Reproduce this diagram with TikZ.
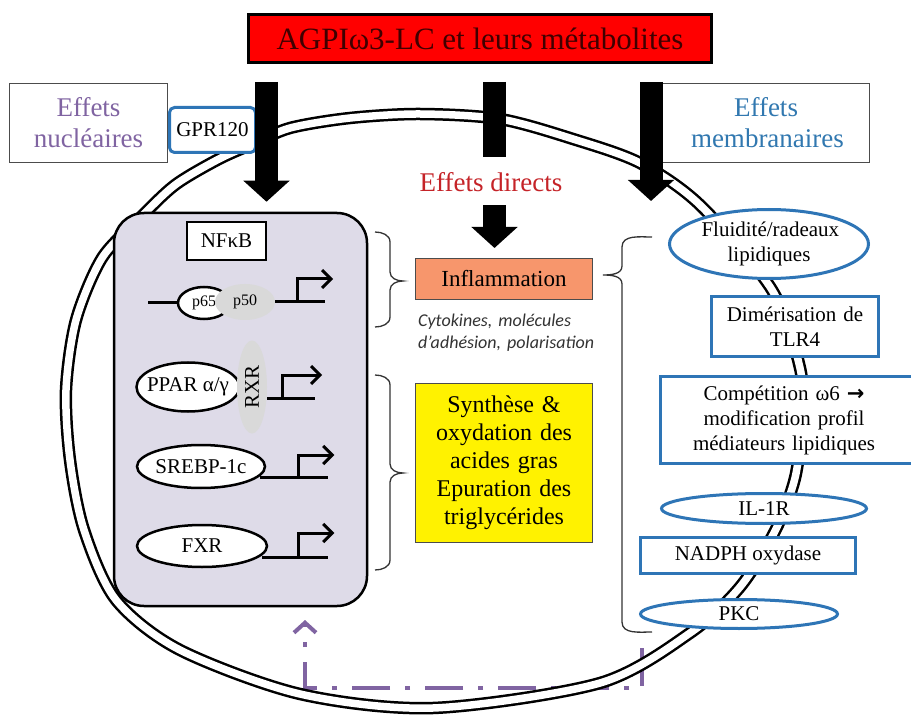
\documentclass[tikz,border=0pt]{standalone}
\usepackage{fontspec}
\setmainfont{Liberation Serif}
\newfontfamily\calfont{Carlito}
\newfontfamily\serf{Liberation Serif}
\newfontfamily\arrowfont{DejaVu Sans}
\usepackage{tikz}
\usetikzlibrary{arrows.meta,positioning,shapes.geometric,calc}
\definecolor{nucfill}{RGB}{222,219,232}
\definecolor{memblue}{RGB}{46,117,182}
\definecolor{membtext}{RGB}{49,120,176}
\definecolor{nucviolet}{RGB}{128,100,162}
\definecolor{dirred}{RGB}{197,35,40}
\definecolor{inflorange}{RGB}{247,150,108}
\definecolor{factgray}{RGB}{217,217,217}
\definecolor{titletext}{RGB}{64,0,0}
\tikzset{
  cell/title/.style={draw, line width=3pt, fill=red, text=titletext, minimum width=463pt, minimum height=48pt, font=\serf\fontsize{31}{36}\selectfont},
  cell/label/.style={draw=black!70, line width=1pt, fill=white, minimum width=158pt, minimum height=79pt, text width=150pt, align=center, font=\serf\fontsize{27}{31}\selectfont},
  cell/receptor/.style={draw=memblue, line width=3pt, fill=white, rounded corners=5pt, font=\serf\fontsize{21}{25}\selectfont},
  cell/nucleus/.style={draw, line width=2.5pt, fill=nucfill, rounded corners=30pt},
  cell/nfkb/.style={draw, line width=2.5pt, fill=white, minimum width=79pt, minimum height=38pt, font=\serf\fontsize{21}{25}\selectfont},
  cell/factor/.style={draw, ellipse, line width=2.5pt, fill=white, inner sep=0pt},
  cell/partner/.style={ellipse, fill=factgray, inner sep=0pt},
  cell/ftext/.style={inner sep=0pt, font=\serf\fontsize{21}{25}\selectfont},
  cell/small/.style={inner sep=0pt, font=\serf\fontsize{16}{19}\selectfont},
  cell/dna/.style={line width=3pt},
  cell/tss/.style={line width=3pt, -{Straight Barb[length=9pt 0, width=18pt 0]}},
  cell/effect/.style={draw=black!70, line width=1pt, minimum width=177pt, font=\serf\fontsize{23}{28}\selectfont},
  cell/note/.style={inner sep=0pt, text width=190pt, align=left, text=black!80, font=\calfont\itshape\fontsize{18}{22}\selectfont},
  cell/membbox/.style={draw=memblue, line width=3pt, fill=white, font=\serf\fontsize{21}{25}\selectfont},
  cell/membell/.style={cell/membbox, ellipse, inner sep=0pt},
  cell/brace/.style={draw=black!80, line width=1.3pt},
  cell/bigarrow/.style={line width=23pt, -{Triangle[length=21pt 0, width=45pt 0]}},
  cell/bigbar/.style={line width=23pt},
  cell/feedback/.style={draw=nucviolet, line width=4pt, dash pattern=on 38pt off 15pt on 5pt off 15pt, -{Straight Barb[length=10pt 0, width=22pt 0]}},
  cell/membrane/.style={line width=2.5pt, double, double distance=7.5pt}
}
\newcommand{\closebrace}[4]{%
  \draw[cell/brace] (#1,#2) to[out=0,in=90] (#1+15,#2+10) -- (#1+15,#3-9)
    to[out=-90,in=180] (#1+28,#3) to[out=180,in=90] (#1+15,#3+9)
    -- (#1+15,#4-10) to[out=-90,in=0] (#1,#4);}
\newcommand{\openbrace}[4]{%
  \draw[cell/brace] (#1,#2) to[out=180,in=90] (#1-30,#2+10) -- (#1-30,#3-9)
    to[out=-90,in=0] (#1-49,#3) to[out=0,in=90] (#1-30,#3+9)
    -- (#1-30,#4-10) to[out=-90,in=180] (#1,#4);}

\begin{document}
\begin{tikzpicture}[x=1pt,y=-1pt]
  \path[use as bounding box, fill=white] (0,0) rectangle (911,722);

  \coordinate (fbs) at (642,648);
  \coordinate (fbe) at (305,620);
  \draw[cell/feedback] (fbs) -- ++(0,40) -| (fbe);

  \draw[cell/membrane] plot[smooth cycle] coordinates {
    (420,114) (500,119) (573,139) (640,163) (700,205) (772,290) (800,368)
    (802,420) (795,478) (775,531) (740,587) (690,633) (600,683) (433,708)
    (300,694) (180,650) (116,600) (84,530) (70,460) (66,390) (76,320)
    (102,258) (140,218) (175,185) (217,160) (250,145) (290,128) (350,118)};

  \node[cell/title] (title) at (480,38.5) {AGPIω3-LC et leurs métabolites};
  \node[cell/label, text=nucviolet] (nucl) at (88.5,123) {Effets\\nucléaires};
  \node[cell/label, text=membtext, minimum width=207pt] (membr) at (766,123) {Effets\\membranaires};
  \node[cell/receptor, minimum width=86pt, minimum height=45pt] (gpr) at (212.5,130) {GPR120};

  \node[cell/nucleus, minimum width=253pt, minimum height=393pt] (nuc) at (240.5,409.5) {};
  \node[cell/nfkb] (nfkb) at (226.5,241) {NFκB};

  \node[cell/factor, minimum width=52pt, minimum height=32pt, label={[cell/small]center:p65}] (p65) at (204,303) {};
  \node[cell/partner, minimum width=60pt, minimum height=36pt, label={[cell/small]center:p50}] (p50) at (245,302) {};
  \coordinate (dnaA) at (148,303);
  \draw[cell/dna] (dnaA) -- (p65.west);
  \draw[cell/dna] (p50.east) -- ++(50,0);
  \draw[cell/tss] ($(p50.east)+(22,0)$) -- ++(0,-23) -- ++(36,0);

  \node[cell/factor, minimum width=103pt, minimum height=49pt, label={[cell/ftext]center:PPAR α/γ}] (ppar) at (188,387) {};
  \node[cell/partner, minimum width=30pt, minimum height=93pt, label={[cell/ftext, rotate=90]center:RXR}] (rxr) at (252,387) {};
  \draw[cell/dna] ($(rxr.east)+(0,11)$) -- ++(48,0);
  \draw[cell/tss] ($(rxr.east)+(15,11)$) -- ++(0,-23) -- ++(40,0);

  \node[cell/factor, minimum width=128pt, minimum height=43pt, label={[cell/ftext]center:SREBP-1c}] (srebp) at (201,466.5) {};
  \draw[cell/dna] ($(srebp.east)+(-6,10.5)$) -- ++(68,0);
  \draw[cell/tss] ($(srebp.east)+(32,10.5)$) -- ++(0,-22) -- ++(36,0);

  \node[cell/factor, minimum width=130pt, minimum height=42pt, label={[cell/ftext]center:FXR}] (fxr) at (202,546) {};
  \draw[cell/dna] ($(fxr.east)+(-6,11)$) -- ++(66,0);
  \draw[cell/tss] ($(fxr.east)+(30,11)$) -- ++(0,-24) -- ++(36,0);

  \closebrace{375}{232}{281}{327}
  \closebrace{375}{375}{473}{570}
  \openbrace{652}{237}{275}{632}

  \node[font=\serf\fontsize{27}{32}\selectfont, text=dirred] (direct) at (491,182) {Effets directs};
  \node[cell/effect, fill=inflorange, minimum height=41pt] (infl) at (504,279) {Inflammation};
  \node[cell/note, below=14pt of infl.south west, anchor=north west, xshift=3pt] (cyto) {Cytokines, molécules\\d’adhésion, polarisation};
  \node[cell/effect, fill=yellow, minimum height=159pt, text width=170pt, align=center, font=\serf\fontsize{24}{28}\selectfont] (synth) at (504,463)
    {Synthèse \&\\oxydation des\\acides gras\\Epuration des\\triglycérides};

  \node[cell/membell, minimum width=199pt, minimum height=69pt, text width=135pt, align=center] (fluid) at (769,244) {Fluidité/radeaux\\lipidiques};
  \node[cell/membbox, minimum width=167pt, minimum height=60pt, text width=158pt, align=center] (tlr) at (795,326.5) {Dimérisation de\\TLR4};
  \node[cell/membbox, minimum width=256pt, minimum height=87pt, text width=246pt, align=center] (compet) at (788,420) {\hspace*{-8pt}Compétition ω6 {\arrowfont\bfseries →}\\\hspace*{-8pt}modification profil\\\hspace*{-8pt}médiateurs lipidiques};
  \node[cell/membell, minimum width=205pt, minimum height=30pt] (il1r) at (764,508.5) {IL-1R};
  \node[cell/membbox, minimum width=215pt, minimum height=36pt] (nadph) at (748,555.5) {NADPH oxydase};
  \node[cell/membell, minimum width=197pt, minimum height=29pt] (pkc) at (739,614) {PKC};

  \coordinate (inN) at (266.5,82);
  \coordinate (inD) at (494.5,82);
  \coordinate (inM) at (651,82);
  \draw[cell/bigarrow, shorten >=10pt] (inN) -- (inN |- nuc.north);
  \draw[cell/bigbar, shorten >=12pt] (inD) -- (inD |- direct.north);
  \draw[cell/bigarrow, shorten <=10pt, shorten >=10pt] (direct.south -| inD) -- (infl.north -| inD);
  \draw[cell/bigarrow, shorten >=7pt] (inM) -- (inM |- fluid.north);
\end{tikzpicture}
\end{document}
